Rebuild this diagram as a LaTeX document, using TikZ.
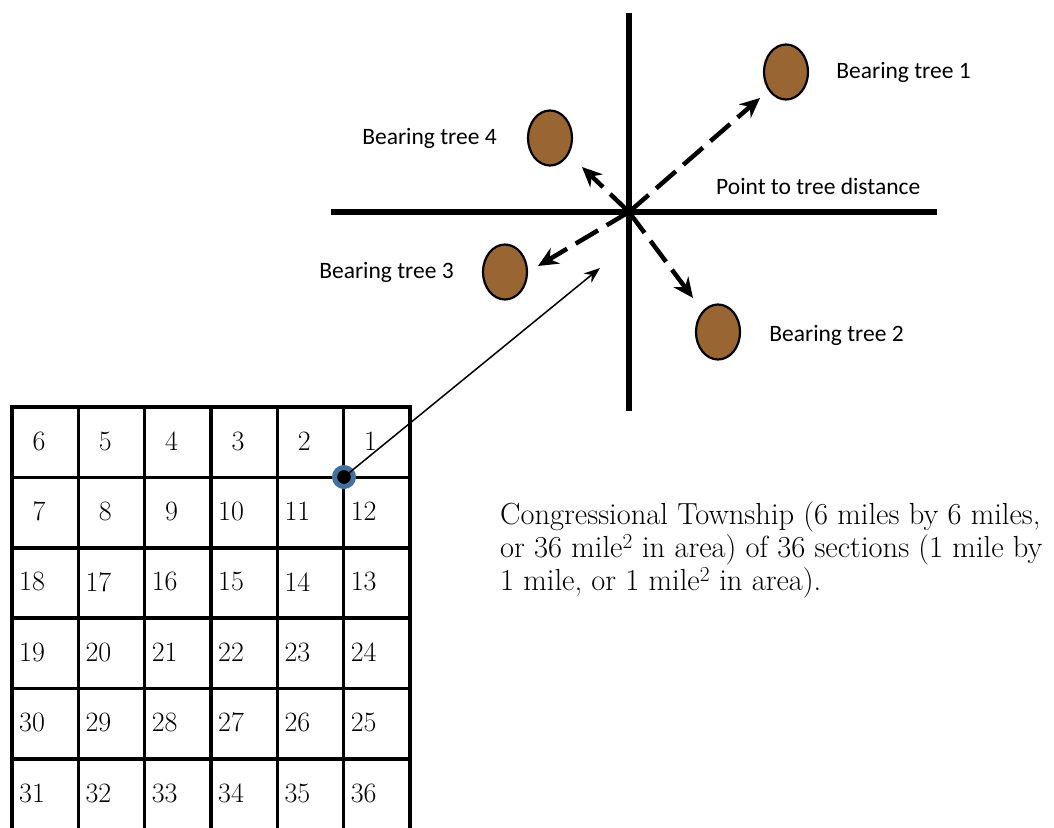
\documentclass[tikz,border=0pt]{standalone}
\usepackage{fontspec}
\newfontfamily\labelfont{Carlito}
\usetikzlibrary{arrows.meta,positioning,shapes.geometric}
\definecolor{treebrown}{RGB}{153,102,51}
\definecolor{ringblue}{RGB}{65,113,156}

\begin{document}
\begin{tikzpicture}[x=1pt, y=-1pt,
    gridline/.style={line width=3.5pt, line cap=rect},
    crossline/.style={line width=6pt},
    tree/.style={ellipse, draw, line width=2.2pt, fill=treebrown, minimum width=44pt, minimum height=55pt, inner sep=0pt},
    treelabel/.style={font=\labelfont\fontsize{23.5}{28}\selectfont, inner sep=0pt},
    tiedash/.style={line width=4.5pt, dash pattern=on 26pt off 10pt, -{Stealth[length=20pt, width=18pt]}},
    secnum/.style={font=\fontsize{28}{32}\selectfont, inner sep=0pt}]
    \useasboundingbox (0,0) rectangle (1054,827);

    % Township grid
    \foreach \k in {0,...,6} {
        \draw[gridline] ({12+66.33*\k},407) -- ({12+66.33*\k},829.4);
        \draw[gridline] (12,{407+70.4*\k}) -- (410,{407+70.4*\k});
    }
    \foreach \r in {0,...,5} {
        \foreach \c in {0,...,5} {
            \pgfmathtruncatemacro{\n}{mod(\r,2)==0 ? 6*\r+6-\c : 6*\r+1+\c}
            \ifnum\n<10
                \node[secnum] (sec\n) at ({12+66.33*\c+27},{441+70.4*\r}) {\n};
            \else
                \node[secnum, anchor=west] (sec\n) at ({12+66.33*\c+7},{441+70.4*\r}) {\n};
            \fi
        }
    }

    % Corner point and pointer
    \node[circle, fill=black, draw=ringblue, line width=5pt, minimum size=19pt, inner sep=0pt] (corner) at (344,477) {};
    \coordinate (aim) at (600,268);
    \draw[line width=1.5pt, -{Stealth[length=16pt, width=12pt]}] (corner.center) -- (aim);

    % Survey point cross
    \coordinate (stake) at (629,212);
    \draw[crossline] (629,13) -- (629,411);
    \draw[crossline] (331,212) -- (937,212);

    % Bearing trees
    \node[tree] (tree1) at (786,72) {};
    \node[tree] (tree2) at (718,332) {};
    \node[tree] (tree3) at (505,272) {};
    \node[tree] (tree4) at (550,138) {};
    \node[treelabel, right=27pt of tree1] {Bearing tree 1};
    \node[treelabel, right=28pt of tree2, yshift=-3pt] {Bearing tree 2};
    \node[treelabel, left=28pt of tree3] {Bearing tree 3};
    \node[treelabel, left=30pt of tree4] {Bearing tree 4};
    \node[treelabel, anchor=west] (dist) at (716,186) {Point to tree distance};

    % Point to tree distances
    \coordinate (tip1) at (760,98);
    \coordinate (tip2) at (693,298);
    \coordinate (tip3) at (538,266);
    \coordinate (tip4) at (582,167);
    \foreach \t in {1,...,4}
        \draw[tiedash] (stake) -- (tip\t);

    % Description
    \node[anchor=north west, align=left, inner sep=0pt, font=\fontsize{30.5}{33}\selectfont] (desc) at (500,501)
        {Congressional Township (6 miles by 6 miles,\\
         or 36 mile\textsuperscript{2} in area) of 36 sections (1 mile by\\
         1 mile, or 1 mile\textsuperscript{2} in area).};
\end{tikzpicture}
\end{document}
